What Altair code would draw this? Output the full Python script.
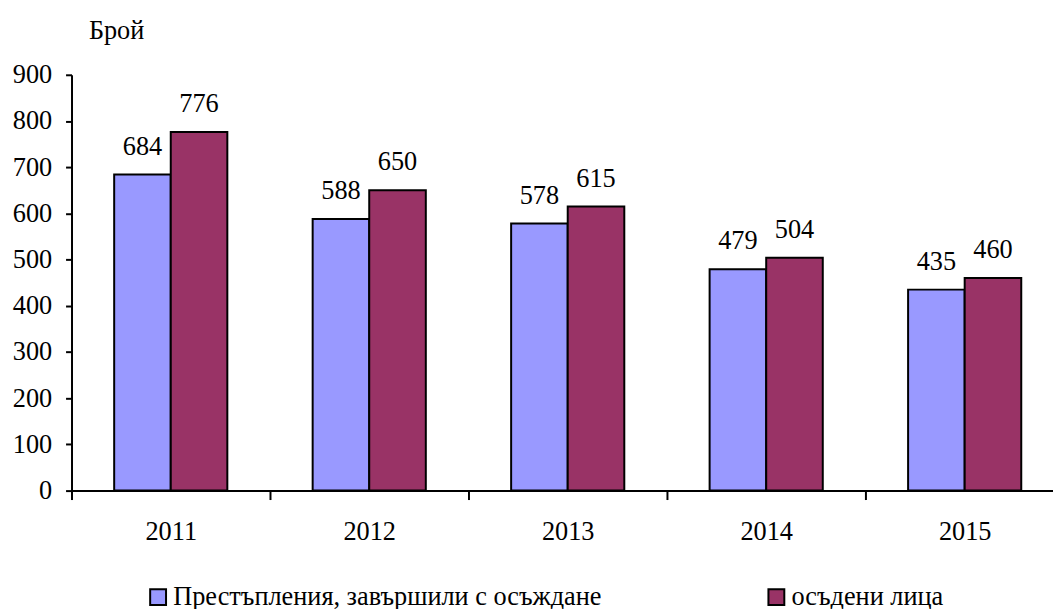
import altair as alt
import pandas as pd

years = ["2011", "2012", "2013", "2014", "2015"]
series = ["Престъпления, завършили с осъждане", "осъдени лица"]
crimes = [684, 588, 578, 479, 435]
convicted = [776, 650, 615, 504, 460]
colors = ["#9999FF", "#993366"]
y_ticks = list(range(0, 1000, 100))

rows = []
for i, yr in enumerate(years):
    rows.append({"year": yr, "series": series[0], "value": crimes[i]})
    rows.append({"year": yr, "series": series[1], "value": convicted[i]})
df = pd.DataFrame(rows)

FONT = "Liberation Serif"
FS = 26.5

x_enc = alt.X(
    "year:N", sort=years,
    scale=alt.Scale(range=[0, 1000], paddingInner=0, paddingOuter=0),
    axis=alt.Axis(title=None, labelAngle=0, tickBand="extent", tickSize=9,
                  tickWidth=2, tickColor="black", domainColor="black", domainWidth=2,
                  labelFont=FONT, labelFontSize=FS, labelColor="black", labelPadding=19),
)
xoff = alt.XOffset("series:N", sort=series,
                   scale=alt.Scale(domain=series, paddingInner=0, paddingOuter=0.754))
y_enc = alt.Y(
    "value:Q", scale=alt.Scale(domain=[0, 900]),
    axis=alt.Axis(values=y_ticks, title="Брой", titleAngle=0, titleAlign="left",
                  titleBaseline="alphabetic", titleX=17, titleY=-37, titleFont=FONT,
                  titleFontSize=FS, titleFontWeight="normal", titleColor="black",
                  labelFont=FONT, labelFontSize=FS, labelColor="black", labelPadding=14,
                  tickSize=6, tickWidth=2, tickColor="black", domainColor="black",
                  domainWidth=2, grid=False),
)
color = alt.Color(
    "series:N", sort=series,
    scale=alt.Scale(domain=series, range=colors),
    legend=alt.Legend(title=None, orient="none", legendX=74, legendY=513,
                      direction="horizontal", columns=2, symbolType="square",
                      symbolSize=256, symbolStrokeColor="black", symbolStrokeWidth=2,
                      symbolOpacity=1, labelFont=FONT, labelFontSize=FS, labelColor="black",
                      labelLimit=800, labelOffset=2, columnPadding=162, padding=0),
)

bars = alt.Chart(df).mark_bar(stroke="black", strokeWidth=2, opacity=1).encode(
    x=x_enc, xOffset=xoff, y=y_enc, color=color
)
labels = alt.Chart(df).mark_text(dy=-20, baseline="alphabetic", font=FONT, fontSize=FS,
                                 color="black").encode(
    x=alt.X("year:N", sort=years), xOffset=alt.XOffset("series:N", sort=series),
    y="value:Q", text="value:Q"
)

chart = alt.layer(bars, labels).properties(
    width=989, height=419,
    autosize=alt.AutoSizeParams(type="none"),
    padding={"left": 64, "top": 65, "right": 0, "bottom": 117},
).configure(font=FONT).configure_axis(
    labelFont=FONT, titleFont=FONT
).configure_legend(labelFont=FONT).configure_text(font=FONT).configure_view(stroke=None)

chart.save("out.html", embed_options={"renderer": "svg", "actions": False})
